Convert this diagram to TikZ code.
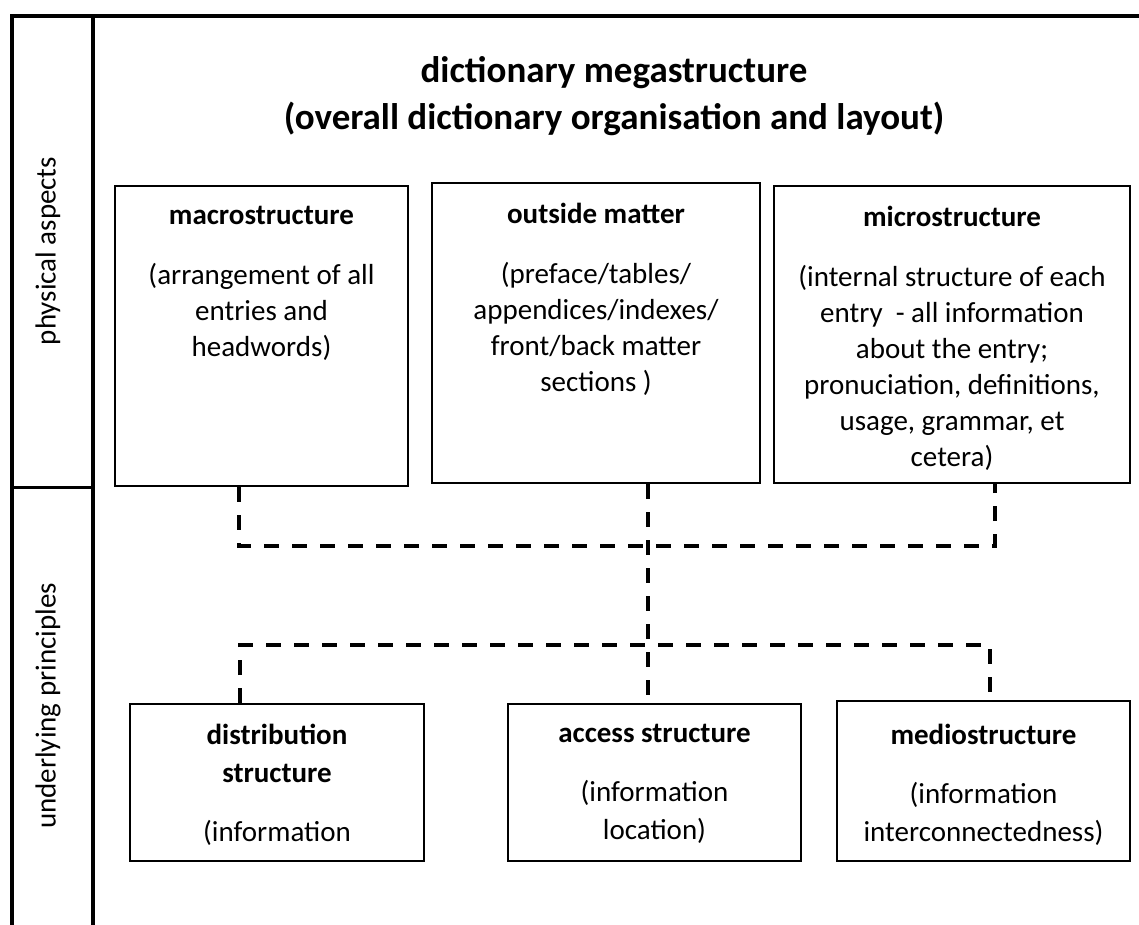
\documentclass[tikz,border=0pt]{standalone}
\usepackage{fontspec}
\setmainfont{Carlito}
\usetikzlibrary{positioning, calc}
\tikzset{
  frame/.style={line width=2pt},
  box/.style={draw, line width=1pt, anchor=north west, inner sep=0pt},
  boxtext/.style={align=center, inner sep=0pt, font=\fontsize{14.5}{18}\selectfont},
  lowtext/.style={boxtext, font=\fontsize{14.5}{19}\selectfont},
  link/.style={line width=1.75pt, dash pattern=on 7.5pt off 6.5pt},
  side/.style={rotate=90, font=\fontsize{14.5}{18}\selectfont},
  megatitle/.style={align=center, font=\fontsize{18.5}{23.5}\selectfont\bfseries},
}
\begin{document}
\begin{tikzpicture}[x=0.5pt, y=-0.5pt]
  \useasboundingbox (0,0) rectangle (1139,925);
  % frame and side labels
  \draw[frame] (12,925) -- (12,16) -- (1139,16);
  \draw[frame] (93,16) -- (93,925);
  \draw[line width=1.5pt] (12,487) -- (93,487);
  \node[side] (phys) at (48,251) {physical aspects};
  \node[side] (princ) at (48,706) {underlying principles};

  \node[megatitle, anchor=north] (mega) at (614,49)
    {dictionary megastructure\\(overall dictionary organisation and layout)};

  % upper row
  \node[box, minimum width=146.5pt, minimum height=150pt] (macro) at (114,185) {};
  \node[box, minimum width=164pt, minimum height=150pt] (outside) at (431,182) {};
  \node[box, minimum width=178pt, minimum height=148.5pt] (micro) at (773,185) {};
  \node[boxtext, below=10.5pt of macro.north] (macroT)
    {\textbf{macrostructure}\\[12pt](arrangement of all\\entries and\\headwords)};
  \node[boxtext, below=10.5pt of outside.north] (outsideT)
    {\textbf{outside matter}\\[12pt](preface/tables/\\appendices/indexes/\\front/back matter\\sections )};
  \node[boxtext, below=10.5pt of micro.north] (microT)
    {\textbf{microstructure}\\[12pt](internal structure of each\\entry\ \ - all information\\about the entry;\\pronuciation, definitions,\\usage, grammar, et\\cetera)};

  % lower row
  \node[box, minimum width=147pt, minimum height=78.5pt] (distr) at (129,703) {};
  \node[box, minimum width=146.5pt, minimum height=78.5pt] (access) at (507,703) {};
  \node[box, minimum width=146.5pt, minimum height=80pt] (medio) at (836,700) {};
  \node[lowtext, below=10.5pt of distr.north] (distrT)
    {\textbf{distribution}\\\textbf{structure}\\[10.5pt](information};
  \node[lowtext, below=10.5pt of access.north] (accessT)
    {\textbf{access structure}\\[10.5pt](information\\location)};
  \node[lowtext, below=12pt of medio.north] (medioT)
    {\textbf{mediostructure}\\[10.5pt](information\\interconnectedness)};

  % dashed links
  \coordinate (jtop) at (647,546);
  \coordinate (jbot) at (647,645);
  \draw[link] ($(macro.south)+(-22.5,0)$) |- (jtop) -| ($(micro.south)+(43,0)$);
  \draw[link] ($(outside.south)+(52,0)$) -- ($(access.north)+(-6.5,0)$);
  \draw[link] ($(distr.north)+(-37,0)$) |- (jbot) -| ($(medio.north)+(6.5,0)$);
\end{tikzpicture}
\end{document}
